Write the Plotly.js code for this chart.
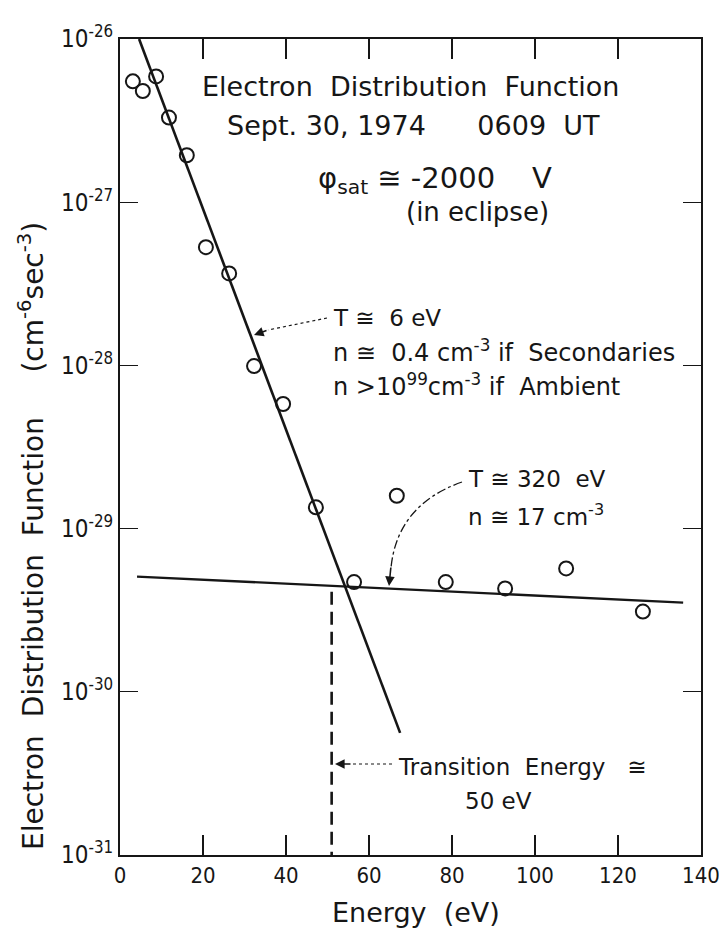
<!DOCTYPE html>
<html>
<head>
<meta charset="utf-8">
<script src="https://cdn.plot.ly/plotly-3.0.1.min.js"></script>
<style>html,body{margin:0;padding:0;background:#fff;}#chart{width:719px;height:931px;}</style>
</head>
<body>
<div id="chart"></div>
<script>
// Measured points (energy in eV, distribution function in cm^-6 sec^-3)
var energy = [3.1, 5.5, 8.7, 11.8, 16.1, 20.7, 26.3, 32.3, 39.3, 47.2, 56.4, 66.7, 78.5, 92.8, 107.5, 126.0];
var distF  = [5.5e-27, 4.8e-27, 5.9e-27, 3.3e-27, 1.94e-27, 5.3e-28, 3.66e-28, 9.9e-29, 5.8e-29, 1.35e-29, 4.7e-30, 1.59e-29, 4.7e-30, 4.3e-30, 5.7e-30, 3.1e-30];

// Fitted lines (end points)
var coldFitX = [4.6, 67.5];
var coldFitY = [1e-26, 5.6e-31];
var hotFitX  = [4.1, 135.7];
var hotFitY  = [5.08e-30, 3.52e-30];

// Transition energy marker
var transX = [51, 51];
var transY = [4.1e-30, 1e-31];

// Ticks
var xTicks = [0, 20, 40, 60, 80, 100, 120, 140];
var yTicks = [1e-31, 1e-30, 1e-29, 1e-28, 1e-27, 1e-26];
var yTickText = ['10<sup>-31</sup>', '10<sup>-30</sup>', '10<sup>-29</sup>', '10<sup>-28</sup>', '10<sup>-27</sup>', '10<sup>-26</sup>'];

var INK = '#161616';
var FONT = 'DejaVu Sans, Liberation Sans, sans-serif';
var TICKFONT = 'Liberation Sans Narrow, DejaVu Sans Condensed, Liberation Sans, sans-serif';
var S = '\u00a0';
function sp(n){ return new Array(n + 1).join(S); }

// pixel -> paper helpers for decorations (plot area 120..701 x, 39..855 y)
var L = 120, R = 18, T = 39, B = 76, W = 719, H = 931;
var PW = W - L - R, PH = H - T - B;
function px(x){ return (x - L) / PW; }
function py(y){ return (H - B - y) / PH; }

var traces = [
  {x: coldFitX, y: coldFitY, mode: 'lines', line: {color: INK, width: 2.6}, hoverinfo: 'skip'},
  {x: hotFitX, y: hotFitY, mode: 'lines', line: {color: INK, width: 2.4}, hoverinfo: 'skip'},
  {x: transX, y: transY, mode: 'lines', line: {color: INK, width: 2.6, dash: '13px,7px'}, hoverinfo: 'skip'},
  {x: energy, y: distF, mode: 'markers',
   marker: {symbol: 'circle-open', size: 14, color: INK, line: {width: 2, color: INK}}}
];

function txt(text, x, y, size, anchor, angle){
  return {text: text, xref: 'paper', yref: 'paper', x: px(x), y: py(y),
          xanchor: anchor || 'left', yanchor: 'middle', showarrow: false,
          textangle: angle || 0,
          font: {family: FONT, size: size, color: INK}};
}
function head(x, y, ax, ay){
  return {text: '', xref: 'paper', yref: 'paper', x: px(x), y: py(y),
          ax: ax - x, ay: ay - y, showarrow: true, arrowhead: 2, arrowsize: 1.2,
          arrowwidth: 1.6, arrowcolor: INK};
}

var annotations = [
  txt('Electron' + sp(2) + 'Distribution' + sp(2) + 'Function', 410, 86, 27, 'center'),
  txt('Sept. 30, 1974' + sp(6) + '0609' + sp(2) + 'UT', 413, 126, 27, 'center'),
  txt('\u03c6<sub>sat</sub>' + sp(1) + '\u2245 -2000' + sp(4) + 'V', 316, 180, 29, 'left'),
  txt('(in eclipse)', 477, 212, 26, 'center'),
  txt('T \u2245' + sp(2) + '6 eV', 331, 318, 23, 'left'),
  txt('n \u2245' + sp(2) + '0.4 cm<sup>-3</sup> if' + sp(2) + 'Secondaries', 331, 351, 24, 'left'),
  txt('n >10<sup>99</sup>cm<sup>-3</sup> if' + sp(2) + 'Ambient', 331, 385, 24, 'left'),
  txt('T \u2245 320' + sp(2) + 'eV', 466, 479, 23, 'left'),
  txt('n \u2245 17 cm<sup>-3</sup>', 466, 515, 23, 'left'),
  txt('Transition' + sp(2) + 'Energy' + sp(3) + '\u2245', 396, 767, 23, 'left'),
  txt('50 eV', 498, 801, 23, 'center'),
  txt('Electron' + sp(2) + 'Distribution' + sp(2) + 'Function' + sp(5) + '(cm<sup>-6</sup>sec<sup>-3</sup>)', 31, 536, 28, 'center', -90),
  txt('Energy' + sp(2) + '(eV)', 416, 912, 27, 'center'),
  head(254, 335, 268, 330),
  head(389, 586, 391, 566),
  head(335, 764, 352, 764)
];

var shapes = [
  {type: 'line', xref: 'paper', yref: 'paper', x0: px(327), y0: py(318), x1: px(268), y1: py(330),
   line: {color: INK, width: 1.2, dash: 'dot'}},
  {type: 'path', xref: 'paper', yref: 'paper',
   path: 'M ' + px(462) + ' ' + py(482) + ' Q ' + px(397) + ' ' + py(505) + ' ' + px(391) + ' ' + py(568),
   line: {color: INK, width: 1.3, dash: 'dashdot'}},
  {type: 'line', xref: 'paper', yref: 'paper', x0: px(392), y0: py(764), x1: px(352), y1: py(764),
   line: {color: INK, width: 1.2, dash: 'dot'}}
];

var layout = {
  width: W, height: H,
  margin: {l: L, r: R, t: T, b: B, pad: 0},
  paper_bgcolor: '#ffffff', plot_bgcolor: '#ffffff',
  showlegend: false,
  font: {family: FONT, color: INK},
  xaxis: {
    range: [0, 140], tickvals: xTicks, ticktext: xTicks.map(String),
    ticks: 'inside', ticklen: 20, tickwidth: 1.6, tickcolor: INK,
    showline: true, linewidth: 2, linecolor: INK, mirror: 'ticks',
    showgrid: false, zeroline: false, ticklabeloverflow: 'allow',
    tickfont: {family: TICKFONT, size: 22, color: INK}
  },
  yaxis: {
    type: 'log', range: [-31, -26], tickvals: yTicks, ticktext: yTickText,
    ticks: 'inside', ticklen: 18, tickwidth: 1.4, tickcolor: INK,
    showline: true, linewidth: 2, linecolor: INK, mirror: 'ticks',
    showgrid: false, zeroline: false, ticklabeloverflow: 'allow',
    tickfont: {family: TICKFONT, size: 24, color: INK}
  },
  annotations: annotations,
  shapes: shapes
};

Plotly.newPlot('chart', traces, layout, {displayModeBar: false, staticPlot: true});
</script>
</body>
</html>
